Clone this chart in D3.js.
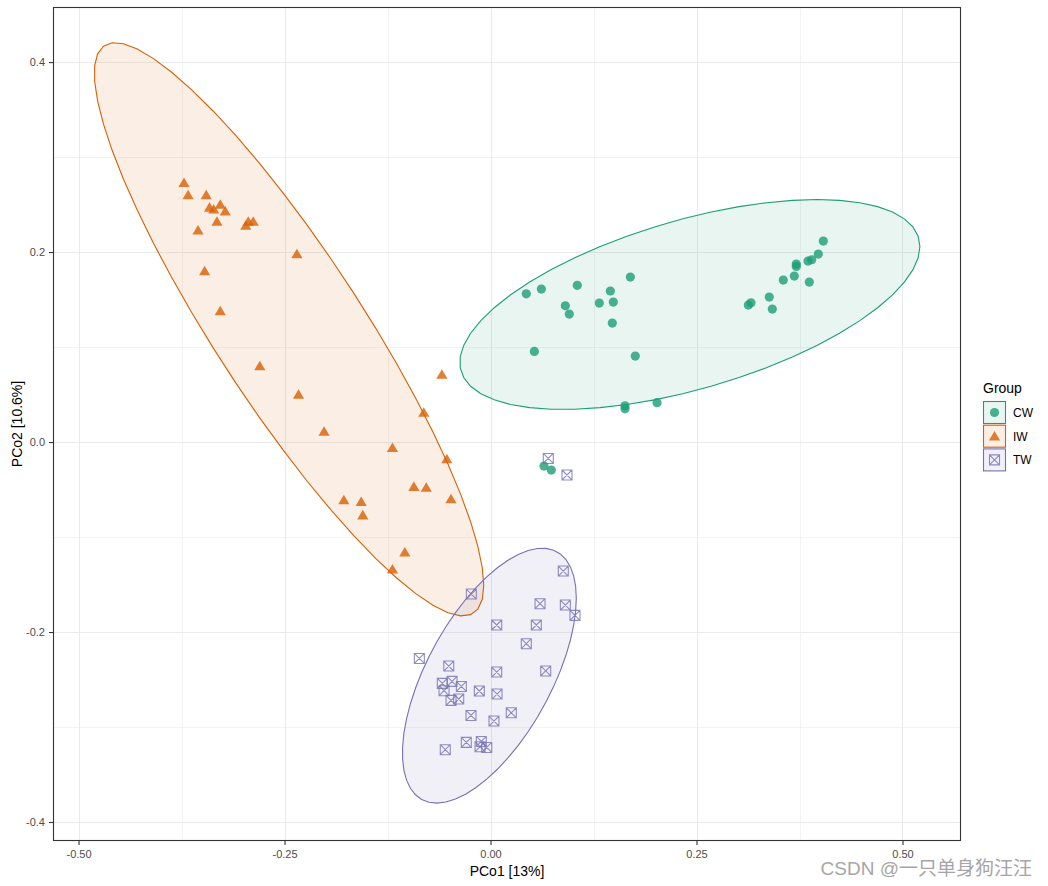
<!DOCTYPE html>
<html><head><meta charset="utf-8">
<script src="https://cdn.jsdelivr.net/npm/d3@7"></script>
<style>
html,body{margin:0;padding:0;background:#fff;}
svg{display:block;font-family:"Liberation Sans",Arial,sans-serif;}
</style></head>
<body>
<svg id="chart" width="1048" height="886"></svg>
<script>
// ---- data ----
const groups = ["CW", "IW", "TW"];
const groupColors = ["#1B9E77", "#D95F02", "#7570B3"];
const xTicks = [-0.5, -0.25, 0, 0.25, 0.5];
const yTicks = [-0.4, -0.2, 0, 0.2, 0.4];
const xLabel = "PCo1 [13%]";
const yLabel = "PCo2 [10.6%]";
const legendTitle = "Group";
const watermark = "CSDN @一只单身狗汪汪";
const ellipseLevel = 0.9;

const cwX = [0.0434,0.0617,0.1053,0.0908,0.0956,0.1454,0.132,0.149,0.1697,0.1478,0.0532,0.1757,0.1632,0.1632,0.2021,0.0649,0.0738,0.4039,0.3978,0.3898,0.3853,0.3711,0.3711,0.3687,0.3553,0.3869,0.3383,0.3161,0.3129,0.342];
const cwY = [0.156,0.161,0.165,0.1435,0.1347,0.159,0.1463,0.1474,0.1737,0.1253,0.0954,0.0905,0.0382,0.035,0.0414,-0.0253,-0.0295,0.2116,0.1979,0.1919,0.1905,0.1874,0.1848,0.1747,0.1705,0.1684,0.1526,0.1466,0.1442,0.14];

const iwX = [-0.372,-0.367,-0.345,-0.341,-0.336,-0.328,-0.322,-0.332,-0.355,-0.297,-0.294,-0.288,-0.347,-0.328,-0.235,-0.280,-0.233,-0.202,-0.178,-0.157,-0.155,-0.059,-0.081,-0.119,-0.053,-0.093,-0.078,-0.048,-0.104,-0.119];
const iwY = [0.273,0.260,0.260,0.247,0.245,0.250,0.243,0.232,0.223,0.228,0.232,0.232,0.180,0.138,0.198,0.080,0.050,0.011,-0.061,-0.063,-0.077,0.071,0.031,-0.006,-0.018,-0.047,-0.048,-0.060,-0.116,-0.134];

const twX = [-0.0233,0.0883,0.0601,0.0908,0.1025,0.0075,0.0556,0.0434,-0.0864,-0.0507,0.0075,0.067,-0.0585,-0.0467,-0.0354,-0.0564,-0.0479,-0.0386,-0.0136,0.0079,-0.0237,0.0252,0.0042,-0.0294,-0.0112,-0.0127,-0.0046,-0.0549,0.0701,0.0928];
const twY = [-0.16,-0.1358,-0.1702,-0.1716,-0.1825,-0.1926,-0.1926,-0.2123,-0.2278,-0.2358,-0.2421,-0.241,-0.2541,-0.252,-0.2573,-0.2618,-0.272,-0.2705,-0.2621,-0.2653,-0.2878,-0.285,-0.2937,-0.3162,-0.3152,-0.3207,-0.3215,-0.3239,-0.0173,-0.0347];

const groupX = [cwX, iwX, twX];
const groupY = [cwY, iwY, twY];

// ---- layout ----
const panel = {left: 53, top: 7, right: 961, bottom: 841};
const svg = d3.select("#chart");
const x = d3.scaleLinear().domain([-0.531, 0.571]).range([panel.left, panel.right]);
const y = d3.scaleLinear().domain([-0.420, 0.458]).range([panel.bottom, panel.top]);

svg.append("rect").attr("x",0).attr("y",0).attr("width",1048).attr("height",886).attr("fill","#fff");

// grid
const gGrid = svg.append("g");
const minorX = [-0.375,-0.125,0.125,0.375];
const minorY = [-0.3,-0.1,0.1,0.3];
gGrid.selectAll(".mx").data(minorX).join("line")
  .attr("x1",d=>Math.round(x(d))+0.5).attr("x2",d=>Math.round(x(d))+0.5)
  .attr("y1",panel.top).attr("y2",panel.bottom).attr("stroke","#EBEBEB").attr("stroke-width",0.6);
gGrid.selectAll(".my").data(minorY).join("line")
  .attr("y1",d=>Math.round(y(d))+0.5).attr("y2",d=>Math.round(y(d))+0.5)
  .attr("x1",panel.left).attr("x2",panel.right).attr("stroke","#EBEBEB").attr("stroke-width",0.6);
gGrid.selectAll(".Mx").data(xTicks).join("line")
  .attr("x1",d=>Math.round(x(d))+0.5).attr("x2",d=>Math.round(x(d))+0.5)
  .attr("y1",panel.top).attr("y2",panel.bottom).attr("stroke","#EBEBEB").attr("stroke-width",1.1);
gGrid.selectAll(".My").data(yTicks).join("line")
  .attr("y1",d=>Math.round(y(d))+0.5).attr("y2",d=>Math.round(y(d))+0.5)
  .attr("x1",panel.left).attr("x2",panel.right).attr("stroke","#EBEBEB").attr("stroke-width",1.1);

// ---- stat_ellipse (t) via cov.trob ----
function covTrob(xs, ys, nu=5, maxit=25, tol=0.01){
  const n = xs.length;
  let lx = d3.mean(xs), ly = d3.mean(ys);
  let w = new Array(n).fill(1);
  let X = [];
  for(let it=0; it<maxit; it++){
    const w0 = w.slice();
    X = xs.map((v,i)=>[v-lx, ys[i]-ly]);
    const sw = d3.sum(w);
    let a=0,b=0,c=0;
    X.forEach((p,i)=>{const f=w[i]/sw; a+=f*p[0]*p[0]; b+=f*p[0]*p[1]; c+=f*p[1]*p[1];});
    const det = a*c-b*b;
    const ia = c/det, ib = -b/det, ic = a/det;
    const Q = X.map(p=>ia*p[0]*p[0]+2*ib*p[0]*p[1]+ic*p[1]*p[1]);
    w = Q.map(q=>(nu+2)/(nu+q));
    const sw2 = d3.sum(w);
    lx = d3.sum(xs.map((v,i)=>w[i]*v))/sw2;
    ly = d3.sum(ys.map((v,i)=>w[i]*v))/sw2;
    if (w.every((v,i)=>Math.abs(v-w0[i])<tol)) break;
  }
  let a=0,b=0,c=0;
  X.forEach((p,i)=>{a+=w[i]*p[0]*p[0]; b+=w[i]*p[0]*p[1]; c+=w[i]*p[1]*p[1];});
  return {center:[lx,ly], cov:[a/n,b/n,c/n]};
}
function ellipsePoints(xs, ys, level, segments=51){
  const v = covTrob(xs, ys);
  const dfd = xs.length - 1;
  const fq = (dfd/2)*(Math.pow(1-level, -2/dfd) - 1);
  const radius = Math.sqrt(2*fq);
  const [a,b,c] = v.cov;
  const r11 = Math.sqrt(a), r12 = b/r11, r22 = Math.sqrt(c - r12*r12);
  const pts = [];
  for(let k=0;k<=segments;k++){
    const t = k*2*Math.PI/segments;
    const u = Math.cos(t), s = Math.sin(t);
    pts.push([v.center[0] + radius*u*r11, v.center[1] + radius*(u*r12 + s*r22)]);
  }
  return pts;
}
const line = d3.line().x(d=>x(d[0])).y(d=>y(d[1]));
const gEll = svg.append("g");
groups.forEach((g,i)=>{
  const pts = ellipsePoints(groupX[i], groupY[i], ellipseLevel);
  gEll.append("path").attr("d", line(pts)+"Z")
    .attr("fill", groupColors[i]).attr("fill-opacity",0.1)
    .attr("stroke", groupColors[i]).attr("stroke-width",1.1);
});

// ---- points ----
function drawShape(sel, gi, cx, cy){
  const col = groupColors[gi];
  if (gi===0){
    sel.append("circle").attr("cx",cx).attr("cy",cy).attr("r",4.6).attr("fill",col).attr("fill-opacity",0.8);
  } else if (gi===1){
    const s=5.6;
    sel.append("path").attr("d",`M${cx},${cy-s*0.95}L${cx+s},${cy+s*0.75}L${cx-s},${cy+s*0.75}Z`)
      .attr("fill",col).attr("fill-opacity",0.8);
  } else {
    const h=5;
    sel.append("path").attr("d",`M${cx-h},${cy-h}H${cx+h}V${cy+h}H${cx-h}ZM${cx-h},${cy-h}L${cx+h},${cy+h}M${cx+h},${cy-h}L${cx-h},${cy+h}`)
      .attr("fill","none").attr("stroke",col).attr("stroke-opacity",0.8).attr("stroke-width",1.1);
  }
}
const gPts = svg.append("g");
groups.forEach((g,i)=>{
  groupX[i].forEach((vx,k)=>{
    drawShape(gPts, i, x(vx), y(groupY[i][k]));
  });
});

// panel border
svg.append("rect").attr("x",panel.left+0.5).attr("y",panel.top+0.5)
  .attr("width",panel.right-panel.left-1).attr("height",panel.bottom-panel.top-1)
  .attr("fill","none").attr("stroke","#333").attr("stroke-width",1.1);

// axes
const xAxis = svg.append("g").attr("transform",`translate(0,${panel.bottom})`)
  .call(d3.axisBottom(x).tickValues(xTicks).tickFormat(d3.format(".2f")).tickSize(4).tickPadding(5));
const yAxis = svg.append("g").attr("transform",`translate(${panel.left},0)`)
  .call(d3.axisLeft(y).tickValues(yTicks).tickFormat(d3.format(".1f")).tickSize(4).tickPadding(4));
[xAxis,yAxis].forEach(a=>{
  a.select(".domain").remove();
  a.selectAll(".tick line").attr("stroke","#333").attr("stroke-width",1.1);
  a.selectAll(".tick text").attr("fill","#4D4D4D").style("font-size","11px").style("font-family","Liberation Sans, Arial, sans-serif");
});
xAxis.selectAll(".tick text").text(d=>d3.format(".2f")(d).replace("−","-"));
yAxis.selectAll(".tick text").text(d=>d3.format(".1f")(d).replace("−","-"));

svg.append("text").attr("x",(panel.left+panel.right)/2).attr("y",876)
  .attr("text-anchor","middle").style("font-size","14px").attr("fill","#000").text(xLabel);
svg.append("text").attr("transform",`translate(22,${(panel.top+panel.bottom)/2}) rotate(-90)`)
  .attr("text-anchor","middle").style("font-size","14px").attr("fill","#000").text(yLabel);

// legend
const lg = svg.append("g");
lg.append("text").attr("x",983).attr("y",393).style("font-size","14px").attr("fill","#000").text(legendTitle);
groups.forEach((g,i)=>{
  const ky = 401 + i*23.7;
  lg.append("rect").attr("x",983.5).attr("y",ky+0.5).attr("width",22).attr("height",22)
    .attr("fill",groupColors[i]).attr("fill-opacity",0.1).attr("stroke",groupColors[i]).attr("stroke-width",1.1);
  drawShape(lg, i, 994.5, ky+11.5);
  lg.append("text").attr("x",1013).attr("y",ky+16).style("font-size","12px").attr("fill","#000").text(g);
});

// watermark
svg.append("text").attr("x",1032).attr("y",875).attr("text-anchor","end")
  .style("font-size","19px").style("font-family","Liberation Sans, 'Noto Sans CJK SC', sans-serif")
  .attr("fill","#A6A6A6").text(watermark);
</script>
</body></html>
